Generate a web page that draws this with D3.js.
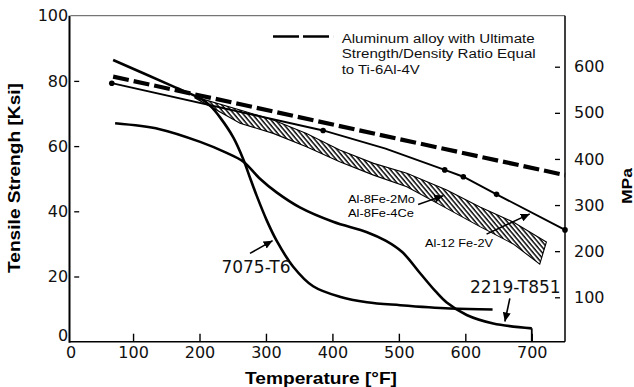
<!DOCTYPE html>
<html><head><meta charset="utf-8">
<script src="https://cdn.jsdelivr.net/npm/d3@7"></script>
<style>body{margin:0;background:#fff}svg{display:block}</style>
</head><body><svg id="c" width="634" height="387"></svg>
<script>
// ---------- data ----------
const xTicks = [0, 100, 200, 300, 400, 500, 600, 700];
const yTicksKsi = [0, 20, 40, 60, 80, 100];
const yTicksMPa = [100, 200, 300, 400, 500, 600];

// 7075-T6
const t7075 = [70, 156, 205, 216, 232, 251, 266, 276, 286, 301, 316, 341, 371, 411, 452, 502, 577, 641];
const s7075 = [86.4, 78.7, 74.2, 72.4, 68.5, 62.6, 55.9, 50.3, 44.8, 37.3, 31.0, 23.0, 17.0, 13.8, 12.1, 11.2, 10.2, 9.9];
// 2219-T851
const t2219 = [73, 140, 201, 240, 266, 291, 316, 351, 401, 452, 480, 505, 532, 555, 572, 602, 642, 700];
const s2219 = [67.0, 65.2, 61.3, 58.0, 55.2, 50.0, 45.8, 41.2, 36.8, 33.6, 31.0, 27.5, 21.0, 15.5, 12.0, 8.2, 5.6, 4.1];
const t2219Drop = [700, 700];
const s2219Drop = [4.1, 0];
// Aluminum alloy with strength/density equal to Ti-6Al-4V (dashed)
const tTi = [70, 260, 470, 750];
const sTi = [81.3, 72.9, 63.5, 51.1];
// solid line with points
const tRS = [68, 386, 480, 569, 597, 647, 750];
const sRS = [79.3, 64.8, 59.2, 52.7, 50.6, 45.2, 34.3];
const tRSpts = [68, 386, 569, 597, 647, 750];
const sRSpts = [79.3, 64.8, 52.7, 50.6, 45.2, 34.3];
// hatched band (Al-8Fe-2Mo, Al-8Fe-4Ce, Al-12Fe-2V)
const tBandTop = [193, 261, 311, 361, 411, 462, 512, 572, 622, 672, 722];
const sBandTop = [75.1, 71.1, 68.0, 63.9, 58.8, 54.7, 51.7, 46.5, 41.3, 36.7, 30.6];
const tBandBot = [193, 261, 311, 361, 411, 462, 512, 572, 622, 672, 712];
const sBandBot = [74.8, 67.0, 63.9, 59.8, 55.2, 51.1, 47.5, 40.9, 35.3, 30.0, 23.8];

const legendLines = ["Aluminum alloy with Ultimate", "Strength/Density Ratio Equal", "to Ti-6Al-4V"];

// ---------- scales ----------
const x = d3.scaleLinear([0, 750], [66.6, 565]);
const y = d3.scaleLinear([0, 100], [341.7, 15.7]);
const yM = d3.scaleLinear([0, 700], [343.4, 20.6]);

const svg = d3.select("#c");
svg.append("rect").attr("width", 634).attr("height", 387).attr("fill", "#fff");

const defs = svg.append("defs");
const pat = defs.append("pattern").attr("id", "hatch").attr("patternUnits", "userSpaceOnUse")
  .attr("width", 3.5).attr("height", 10).attr("patternTransform", "rotate(-40)");
pat.append("line").attr("x1", 1).attr("y1", 0).attr("x2", 1).attr("y2", 10)
  .attr("stroke", "#000").attr("stroke-width", 1.45);
defs.append("marker").attr("id", "arr").attr("markerUnits", "userSpaceOnUse")
  .attr("markerWidth", 10).attr("markerHeight", 8).attr("refX", 9).attr("refY", 4)
  .attr("orient", "auto")
  .append("path").attr("d", "M0,0 L9,4 L0,8 Z").attr("fill", "#000");

// ---------- frame ----------
const x0 = 69.5, xR = 565, yB = y(0), yT = y(100);
svg.append("line").attr("x1", x0 + 1).attr("x2", xR).attr("y1", yT).attr("y2", yT)
  .attr("stroke", "#555").attr("stroke-width", 1);
svg.append("line").attr("x1", x0).attr("x2", x0).attr("y1", yT).attr("y2", yB + 1)
  .attr("stroke", "#000").attr("stroke-width", 2);
svg.append("line").attr("x1", x0).attr("x2", xR).attr("y1", yB).attr("y2", yB)
  .attr("stroke", "#000").attr("stroke-width", 1.6);
svg.append("line").attr("x1", xR).attr("x2", xR).attr("y1", yT).attr("y2", yB)
  .attr("stroke", "#000").attr("stroke-width", 1.5);

// ---------- axes ----------
const tickFont = "'DejaVu Sans', sans-serif";
const gx = svg.append("g").attr("transform", `translate(0,${yB})`)
  .call(d3.axisBottom(x).tickValues(xTicks).tickSizeInner(-8).tickSizeOuter(0).tickPadding(5));
gx.select(".domain").remove();
gx.selectAll(".tick line").attr("stroke", "#000").attr("stroke-width", 1.4)
  .filter(d => d === 0).remove();
gx.selectAll(".tick text").attr("font-family", tickFont).attr("font-size", 16).attr("fill", "#111")
  .filter(d => d === 0).attr("dx", 4);

const gy = svg.append("g").attr("transform", `translate(${x(0) + 1.6},0)`)
  .call(d3.axisLeft(y).tickValues(yTicksKsi).tickSize(0).tickPadding(0));
gy.select(".domain").remove();
gy.selectAll(".tick text").attr("font-family", tickFont).attr("font-size", 16).attr("fill", "#111")
  .filter(d => d === 0).attr("dy", "-0.05em");
gy.selectAll(".tick").filter(d => d > 0 && d < 100).append("line")
  .attr("x1", 6).attr("x2", 11).attr("stroke", "#000").attr("stroke-width", 1.3);

const gr = svg.append("g").attr("transform", `translate(${xR},0)`)
  .call(d3.axisRight(yM).tickValues(yTicksMPa).tickSize(0).tickPadding(9));
gr.select(".domain").remove();
gr.selectAll(".tick text").attr("font-family", tickFont).attr("font-size", 16).attr("fill", "#111");
gr.selectAll(".tick").append("line").attr("x1", -10).attr("x2", -5)
  .attr("stroke", "#000").attr("stroke-width", 1.3);

// axis titles
svg.append("text").attr("transform", `translate(19.5,178) rotate(-90)`)
  .attr("text-anchor", "middle").attr("font-family", "'Liberation Sans', Arial, sans-serif")
  .attr("font-weight", "bold").attr("font-size", 17)
  .attr("textLength", 190).attr("lengthAdjust", "spacingAndGlyphs")
  .text("Tensile Strengh [Ksi]");
svg.append("text").attr("x", 321).attr("y", 384)
  .attr("text-anchor", "middle").attr("font-family", "'Liberation Sans', Arial, sans-serif")
  .attr("font-weight", "bold").attr("font-size", 17)
  .attr("textLength", 152).attr("lengthAdjust", "spacingAndGlyphs")
  .text("Temperature [°F]");
svg.append("text").attr("transform", `translate(632,186) rotate(-90)`)
  .attr("text-anchor", "middle").attr("font-family", "'Liberation Sans', Arial, sans-serif")
  .attr("font-weight", "bold").attr("font-size", 15)
  .attr("textLength", 36).attr("lengthAdjust", "spacingAndGlyphs")
  .text("MPa");

// ---------- marks ----------
const P = (ts, ss) => ts.map((t, i) => [x(t), y(ss[i])]);
const lineLin = d3.line();
const lineSm = d3.line().curve(d3.curveCatmullRom.alpha(0.5));

// band
const bandPts = P(tBandTop, sBandTop).concat(P(tBandBot, sBandBot).reverse());
svg.append("path").attr("d", lineLin(bandPts) + "Z")
  .attr("fill", "url(#hatch)").attr("stroke", "#000").attr("stroke-width", 1.1);

// 2219-T851
svg.append("path").attr("d", lineSm(P(t2219, s2219)))
  .attr("fill", "none").attr("stroke", "#000").attr("stroke-width", 2.6);
svg.append("path").attr("d", lineLin(P(t2219Drop, s2219Drop)))
  .attr("fill", "none").attr("stroke", "#000").attr("stroke-width", 1.8);
// 7075-T6
svg.append("path").attr("d", lineSm(P(t7075, s7075)))
  .attr("fill", "none").attr("stroke", "#000").attr("stroke-width", 2.6);
// solid line with points
svg.append("path").attr("d", lineLin(P(tRS, sRS)))
  .attr("fill", "none").attr("stroke", "#000").attr("stroke-width", 1.9);
svg.append("g").selectAll("circle").data(P(tRSpts, sRSpts)).join("circle")
  .attr("cx", d => d[0]).attr("cy", d => d[1]).attr("r", 2.8).attr("fill", "#000");
// dashed Ti-6Al-4V equivalent
svg.append("path").attr("d", lineLin(P(tTi, sTi)))
  .attr("fill", "none").attr("stroke", "#000").attr("stroke-width", 4.2)
  .attr("stroke-dasharray", "16,5");

// ---------- annotations ----------
const annFont = "'DejaVu Sans', sans-serif";
svg.append("text").attr("x", x(233)).attr("y", y(21)).attr("font-family", annFont)
  .attr("font-size", 17).attr("fill", "#111").text("7075-T6");
svg.append("line").attr("x1", x(276)).attr("y1", y(27.1)).attr("x2", x(310)).attr("y2", y(31))
  .attr("stroke", "#000").attr("stroke-width", 1.6).attr("marker-end", "url(#arr)");
svg.append("text").attr("x", x(607)).attr("y", y(14.9)).attr("font-family", annFont)
  .attr("font-size", 17).attr("fill", "#111").text("2219-T851");
svg.append("line").attr("x1", x(667)).attr("y1", y(13.3)).attr("x2", x(659.5)).attr("y2", y(6.2))
  .attr("stroke", "#000").attr("stroke-width", 1.6).attr("marker-end", "url(#arr)");

const smallFont = "'Liberation Sans', Arial, sans-serif";
svg.append("text").attr("x", x(423.5)).attr("y", y(42.5)).attr("font-family", smallFont)
  .attr("font-size", 11).attr("textLength", 67).attr("lengthAdjust", "spacingAndGlyphs").text("Al-8Fe-2Mo");
svg.append("text").attr("x", x(423.5)).attr("y", y(38.4)).attr("font-family", smallFont)
  .attr("font-size", 11).attr("textLength", 66).attr("lengthAdjust", "spacingAndGlyphs").text("Al-8Fe-4Ce");
svg.append("line").attr("x1", x(529)).attr("y1", y(42.1)).attr("x2", x(567)).attr("y2", y(44.8))
  .attr("stroke", "#000").attr("stroke-width", 1.5).attr("marker-end", "url(#arr)");
svg.append("text").attr("x", x(539.4)).attr("y", y(28.9)).attr("font-family", smallFont)
  .attr("font-size", 11).attr("textLength", 68).attr("lengthAdjust", "spacingAndGlyphs").text("Al-12 Fe-2V");
svg.append("line").attr("x1", x(632)).attr("y1", y(33)).attr("x2", x(697)).attr("y2", y(39.2))
  .attr("stroke", "#000").attr("stroke-width", 1.5).attr("marker-end", "url(#arr)");

// legend
svg.append("line").attr("x1", x(310.6)).attr("x2", x(401)).attr("y1", y(93.6)).attr("y2", y(93.6))
  .attr("stroke", "#000").attr("stroke-width", 2.4).attr("stroke-dasharray", "26,4");
const legLens = [193, 194, 78];
const legS = [91.6, 87.0, 82.1];
legendLines.forEach((s, i) => {
  svg.append("text").attr("x", x(414)).attr("y", y(legS[i])).attr("font-family", smallFont)
    .attr("font-size", 12).attr("fill", "#111")
    .attr("textLength", legLens[i]).attr("lengthAdjust", "spacingAndGlyphs").text(s);
});
</script></body></html>
